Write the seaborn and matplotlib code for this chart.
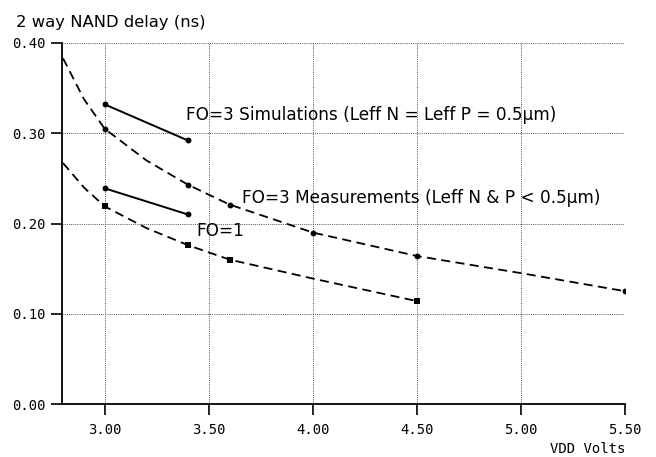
import numpy as np
import pandas as pd
import matplotlib
matplotlib.use("Agg")
import matplotlib.pyplot as plt
import seaborn as sns

# Values
# FO=3 simulations (solid)
sim3_vdd = [3.0, 3.4]
sim3_delay = [0.332, 0.292]
# FO=1 simulations (solid)
sim1_vdd = [3.0, 3.4]
sim1_delay = [0.239, 0.210]

# FO=3 measurements: dashed curve and measured points
meas3_curve_vdd = [2.80, 2.90, 3.00, 3.20, 3.40, 3.60, 4.00, 4.50, 5.00, 5.50]
meas3_curve_delay = [0.383, 0.338, 0.305, 0.270, 0.243, 0.221, 0.190, 0.164, 0.145, 0.125]
meas3_pts_vdd = [3.0, 3.4, 3.6, 4.0, 4.5, 5.5]
meas3_pts_delay = [0.305, 0.243, 0.221, 0.190, 0.164, 0.125]

# FO=1 measurements
meas1_curve_vdd = [2.80, 2.90, 3.00, 3.20, 3.40, 3.60, 4.00, 4.50]
meas1_curve_delay = [0.267, 0.240, 0.219, 0.195, 0.176, 0.160, 0.139, 0.114]
meas1_pts_vdd = [3.0, 3.4, 3.6, 4.5]
meas1_pts_delay = [0.219, 0.176, 0.160, 0.114]

x_ticks = [3.0, 3.5, 4.0, 4.5, 5.0, 5.5]
y_ticks = [0.0, 0.1, 0.2, 0.3, 0.4]

sns.set_style("white")
plt.rcParams["font.family"] = ["DejaVu Sans"]
plt.rcParams["text.color"] = "black"

fig = plt.figure(figsize=(6.56, 4.57), dpi=100)
ax = fig.add_axes([62 / 656, 1 - 404 / 457, 563 / 656, 361 / 457])

dash = (0, (5, 3))

# measured curves (dashed)
sns.lineplot(x=meas3_curve_vdd, y=meas3_curve_delay, ax=ax, color="black",
             lw=1.3, linestyle=dash, sort=False, zorder=3)
sns.lineplot(x=meas1_curve_vdd, y=meas1_curve_delay, ax=ax, color="black",
             lw=1.3, linestyle=dash, sort=False, zorder=3)
sns.scatterplot(x=meas3_pts_vdd, y=meas3_pts_delay, ax=ax, color="black",
                marker="o", s=18, linewidth=0, zorder=4)
sns.scatterplot(x=meas1_pts_vdd, y=meas1_pts_delay, ax=ax, color="black",
                marker="s", s=14, linewidth=0, zorder=4)

# simulated (solid)
for xs, ys in [(sim3_vdd, sim3_delay), (sim1_vdd, sim1_delay)]:
    sns.lineplot(x=xs, y=ys, ax=ax, color="black", lw=1.4, zorder=3)
    sns.scatterplot(x=xs, y=ys, ax=ax, color="black", marker="o", s=18,
                    linewidth=0, zorder=4)

ax.set_xlim(2.795, 5.5)
ax.set_ylim(0.0, 0.40)
ax.set_xticks(x_ticks)
ax.set_yticks(y_ticks)
ax.set_xticklabels([f"{v:.2f}" for v in x_ticks], family="DejaVu Sans Mono",
                   fontsize=10, color="black")
ax.set_yticklabels([f"{v:.2f}" for v in y_ticks], family="DejaVu Sans Mono",
                   fontsize=10, color="black")
ax.tick_params(axis="x", direction="out", length=8, width=1.2,
               color="black", pad=6, bottom=True)
ax.tick_params(axis="y", direction="out", length=8, width=1.2,
               color="black", pad=4, left=True)

ax.grid(True, color="#555555", linestyle=(0, (1, 1.2)), linewidth=0.7)
ax.set_axisbelow(True)
for side in ["top", "right"]:
    ax.spines[side].set_visible(False)
for side in ["left", "bottom"]:
    ax.spines[side].set_color("black")
    ax.spines[side].set_linewidth(1.3)

ax.set_xlabel("VDD Volts", family="DejaVu Sans Mono", fontsize=10,
              loc="right", labelpad=3, color="black")
ax.set_ylabel("")

ax.text(3.39, 0.320, "FO=3 Simulations (Leff N = Leff P = 0.5µm)",
        fontsize=12.2, va="center", ha="left")
ax.text(3.66, 0.228, "FO=3 Measurements (Leff N & P < 0.5µm)",
        fontsize=12.2, va="center", ha="left")
ax.text(3.44, 0.192, "FO=1", fontsize=12.2, va="center", ha="left")

fig.text(16 / 656, 1 - 22 / 457, "2 way NAND delay (ns)", fontsize=11.8,
         va="center", ha="left")

fig.savefig("out.png", dpi=100, facecolor="white")
